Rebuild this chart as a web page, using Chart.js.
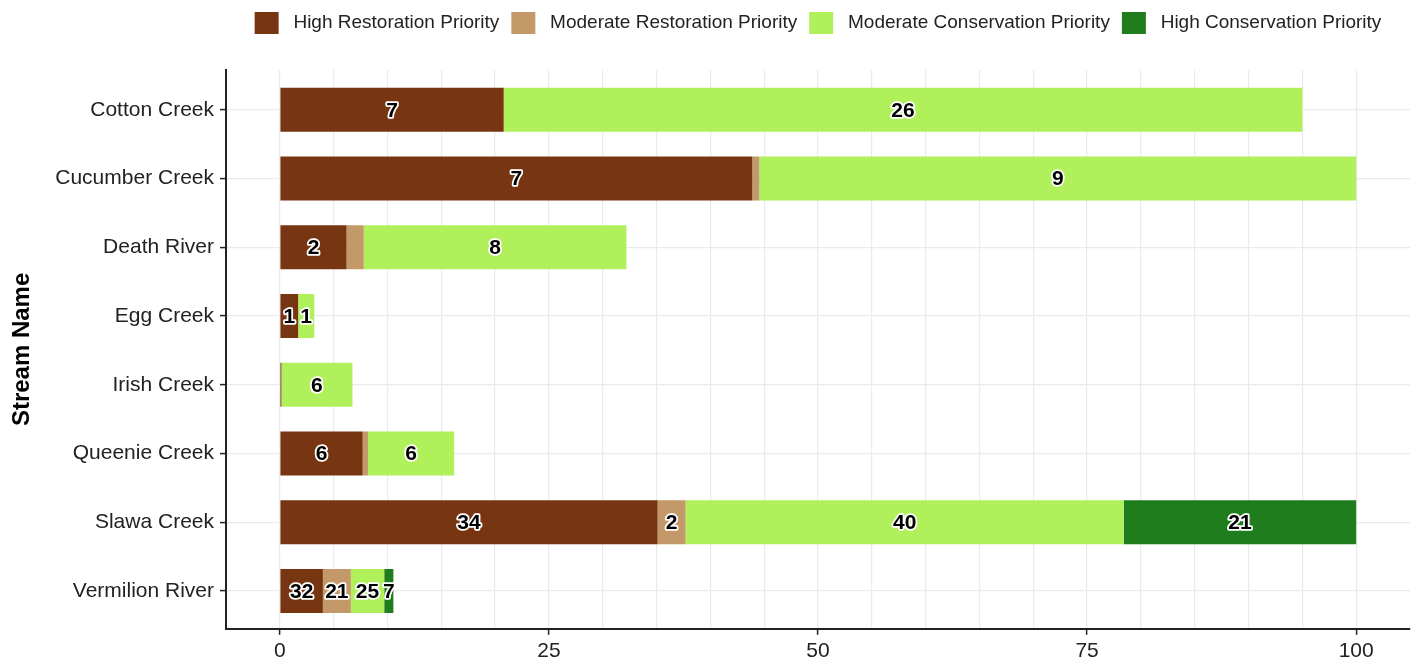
<!DOCTYPE html>
<html lang="en">
<head>
    <meta charset="UTF-8">
    <title>Stream priority</title>
    <script src="https://cdn.jsdelivr.net/npm/chart.js"></script>
    <style>
        html, body { margin: 0; padding: 0; background: #fff; }
        .box { width: 1424px; height: 670px; }
    </style>
</head>
<body>
    <div class="box"><canvas id="grafico"></canvas></div>
<script>
    const streams = ['Cotton Creek', 'Cucumber Creek', 'Death River', 'Egg Creek', 'Irish Creek', 'Queenie Creek', 'Slawa Creek', 'Vermilion River']
    const categorias = ['High Restoration Priority', 'Moderate Restoration Priority', 'Moderate Conservation Priority', 'High Conservation Priority']

    // bar lengths (percent)
    const highRest = [20.8, 43.9, 6.2, 1.7, 0.15, 7.7, 35.1, 4.0]
    const modRest  = [0, 0.65, 1.6, 0, 0, 0.5, 2.6, 2.6]
    const modCons  = [74.2, 55.45, 24.4, 1.5, 6.6, 8.0, 40.7, 3.1]
    const highCons = [0, 0, 0, 0, 0, 0, 21.6, 0.85]

    // counts printed on the bars
    const highRestN = [7, 7, 2, 1, null, 6, 34, 32]
    const modRestN  = [null, null, null, null, null, null, 2, 21]
    const modConsN  = [26, 9, 8, 1, 6, 6, 40, 25]
    const highConsN = [null, null, null, null, null, null, 21, 7]

    const xTicks = [0, 25, 50, 75, 100]

    const cores = ['#783512', '#c4996a', '#aff05b', '#1f7d1e']
    const valores = [highRest, modRest, modCons, highCons]
    const contagens = [highRestN, modRestN, modConsN, highConsN]

    const datasets = categorias.map((nome, k) => ({
        label: nome,
        data: valores[k].map((v, i) => ({ x: v, y: i })),
        counts: contagens[k],
        backgroundColor: cores[k],
        borderWidth: 0,
        categoryPercentage: 1,
        barPercentage: 0.64
    }))

    const rotulos = {
        id: 'rotulos',
        afterDatasetsDraw(chart) {
            const c = chart.ctx
            c.save()
            c.font = 'bold 21px "Liberation Sans", Arial, sans-serif'
            c.textAlign = 'center'
            c.textBaseline = 'middle'
            c.lineJoin = 'round'
            chart.data.datasets.forEach((ds, k) => {
                chart.getDatasetMeta(k).data.forEach((bar, i) => {
                    const n = ds.counts[i]
                    if (n == null) return
                    const x = (bar.x + bar.base) / 2
                    c.lineWidth = 3.5
                    c.strokeStyle = '#fff'
                    c.strokeText(String(n), x, bar.y + 1)
                    c.fillStyle = '#000'
                    c.fillText(String(n), x, bar.y + 1)
                })
            })
            c.restore()
        }
    }

    // extra space under the legend
    const espacoLegenda = {
        id: 'espacoLegenda',
        beforeInit(chart) {
            const fit = chart.legend.fit
            chart.legend.fit = function () {
                fit.bind(chart.legend)()
                this.height += 26
            }
        }
    }

    const fonte = '"Liberation Sans", Arial, sans-serif'

    new Chart(document.getElementById('grafico'), {
        type: 'bar',
        data: { datasets },
        plugins: [rotulos, espacoLegenda],
        options: {
            indexAxis: 'y',
            responsive: true,
            maintainAspectRatio: false,
            animation: false,
            layout: { padding: { left: 0, right: 14, top: 0, bottom: 2 } },
            plugins: {
                tooltip: { enabled: false },
                legend: {
                    position: 'top',
                    fullSize: false,
                    labels: {
                        boxWidth: 24,
                        boxHeight: 22,
                        padding: 12,
                        color: '#222',
                        font: { family: fonte, size: 19 },
                        generateLabels: chart => Chart.defaults.plugins.legend.labels.generateLabels(chart)
                            .map(l => Object.assign(l, { text: ' ' + l.text }))
                    }
                }
            },
            scales: {
                x: {
                    type: 'linear',
                    stacked: true,
                    min: -5,
                    max: 105,
                    afterBuildTicks: s => {
                        const t = []
                        for (let v = 0; v <= 100; v += 5) t.push({ value: v })
                        s.ticks = t
                    },
                    ticks: {
                        autoSkip: false,
                        maxRotation: 0,
                        padding: 4,
                        color: '#222',
                        font: { family: fonte, size: 21 },
                        callback: v => xTicks.includes(v) ? String(v) : ''
                    },
                    grid: {
                        color: '#ebebeb',
                        lineWidth: 1.2,
                        tickLength: 6,
                        tickWidth: 1.5,
                        tickColor: ctx => ctx.tick && xTicks.includes(ctx.tick.value) ? '#222' : 'rgba(0,0,0,0)'
                    },
                    border: { display: true, color: '#222', width: 2 }
                },
                y: {
                    type: 'linear',
                    stacked: true,
                    reverse: true,
                    offset: false,
                    min: -0.58,
                    max: streams.length - 0.45,
                    afterBuildTicks: s => { s.ticks = streams.map((_, i) => ({ value: i })) },
                    afterFit: s => { s.width = 226 },
                    ticks: {
                        autoSkip: false,
                        padding: 6,
                        color: '#222',
                        font: { family: fonte, size: 21 },
                        callback: v => streams[v] || ''
                    },
                    grid: {
                        offset: false,
                        color: '#ebebeb',
                        lineWidth: 1.2,
                        tickLength: 6,
                        tickWidth: 1.5,
                        tickColor: '#222'
                    },
                    border: { display: true, color: '#222', width: 2 },
                    title: {
                        display: true,
                        text: 'Stream Name',
                        color: '#000',
                        padding: { top: 8, bottom: 0 },
                        font: { family: fonte, size: 24, weight: 'bold' }
                    }
                }
            }
        }
    })
</script>
</body>
</html>
